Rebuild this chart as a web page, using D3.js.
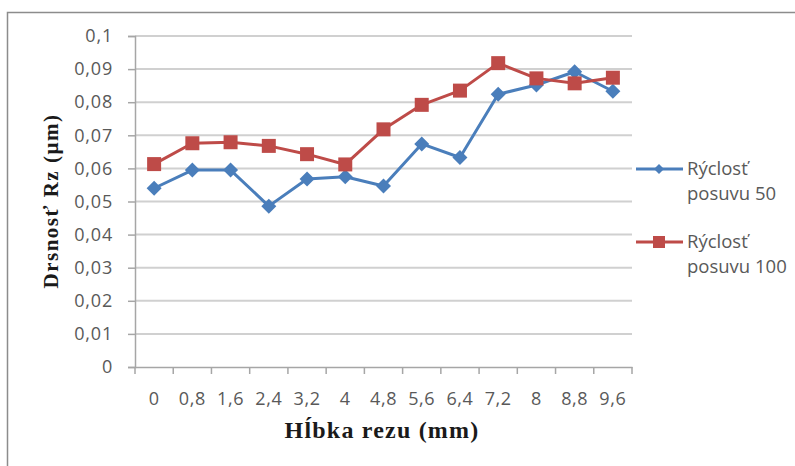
<!DOCTYPE html>
<html>
<head>
<meta charset="utf-8">
<script src="https://cdn.jsdelivr.net/npm/d3@7"></script>
<style>
  body { margin: 0; background: #fff; }
  svg { display: block; }
</style>
</head>
<body>
<svg id="chart" width="795" height="466"></svg>
<script>
// Cutting depth (mm) categories and roughness Rz (µm) for two feed rates
const depths = ["0", "0,8", "1,6", "2,4", "3,2", "4", "4,8", "5,6", "6,4", "7,2", "8", "8,8", "9,6"];
const feed50 = [0.054, 0.0595, 0.0595, 0.0486, 0.0568, 0.0575, 0.0547, 0.0674, 0.0633, 0.0824, 0.0852, 0.0892, 0.0833];
const feed100 = [0.0613, 0.0676, 0.0679, 0.0668, 0.0643, 0.0612, 0.0718, 0.0792, 0.0835, 0.0918, 0.0872, 0.0857, 0.0874];
const yTicks = [0, 0.01, 0.02, 0.03, 0.04, 0.05, 0.06, 0.07, 0.08, 0.09, 0.1];
const seriesNames = [["Rýclosť", "posuvu 50"], ["Rýclosť", "posuvu 100"]];
const colors = ["#4a7ebb", "#be4b48"];

const labelFont = "'Open Sans', Lato, sans-serif";
const titleFont = "'Liberation Serif', 'DejaVu Serif', serif";

const svg = d3.select("#chart");
const plot = { left: 135, right: 632, top: 36, bottom: 367 };

// outer chart frame (only top and left edges fall inside the view)
svg.append("rect")
  .attr("x", 7.5).attr("y", 12.5).attr("width", 800).attr("height", 470)
  .attr("fill", "#fff").attr("stroke", "#8c8c8c").attr("stroke-width", 1.5);

const x = d3.scaleBand().domain(depths).range([plot.left, plot.right]);
const y = d3.scaleLinear().domain([0, 0.1]).range([plot.bottom, plot.top]);

const fmt = v => (v === 0 ? "0" : d3.format(".2~f")(v).replace(".", ","));

// horizontal gridlines
svg.append("g")
  .selectAll("line")
  .data(yTicks.filter(d => d > 0))
  .join("line")
  .attr("x1", plot.left).attr("x2", plot.right)
  .attr("y1", d => y(d)).attr("y2", d => y(d))
  .attr("stroke", "#d0d0d0").attr("stroke-width", 2);

// y axis
const yAxis = svg.append("g")
  .attr("transform", `translate(${plot.left},0)`)
  .call(d3.axisLeft(y).tickValues(yTicks).tickFormat(fmt).tickSize(7).tickPadding(15));
yAxis.select(".domain").attr("stroke", "#a6a6a6").attr("stroke-width", 1.5);
yAxis.selectAll(".tick line").attr("stroke", "#a6a6a6").attr("stroke-width", 1.5);
yAxis.selectAll(".tick text")
  .attr("fill", "#595959").style("font-family", labelFont).style("font-size", "18px")
  .style("letter-spacing", "0.8px");

// x axis with tick marks between categories
const xAxis = svg.append("g")
  .attr("transform", `translate(0,${plot.bottom})`)
  .call(d3.axisBottom(x).tickSize(0).tickPadding(25));
xAxis.select(".domain").attr("stroke", "#a6a6a6").attr("stroke-width", 1.5);
xAxis.selectAll(".tick text")
  .attr("fill", "#595959").style("font-family", labelFont).style("font-size", "18px")
  .style("letter-spacing", "0.6px");
xAxis.append("g")
  .selectAll("line")
  .data(d3.range(depths.length + 1))
  .join("line")
  .attr("x1", i => plot.left + i * x.step()).attr("x2", i => plot.left + i * x.step())
  .attr("y1", 0).attr("y2", 7)
  .attr("stroke", "#a6a6a6").attr("stroke-width", 1.5);

const cx = (d, i) => x(depths[i]) + x.bandwidth() / 2;
const line = d3.line().x((d, i) => cx(d, i)).y(d => y(d));

// marker shapes: square-ish diamond and square
const diamond = () => "M0,-7.5L7.5,0L0,7.5L-7.5,0Z";
const square = () => "M-7,-7H7V7H-7Z";

// series: feed 50 (diamonds) below, feed 100 (squares) on top
[[feed50, diamond], [feed100, square]].forEach(([vals, sym], s) => {
  const g = svg.append("g");
  g.append("path")
    .attr("d", line(vals))
    .attr("fill", "none").attr("stroke", colors[s]).attr("stroke-width", 3)
    .attr("stroke-linejoin", "round");
  g.selectAll("path.m")
    .data(vals)
    .join("path")
    .attr("class", "m")
    .attr("d", sym)
    .attr("transform", (d, i) => `translate(${cx(d, i)},${y(d)})`)
    .attr("fill", colors[s]);
});

// legend
const legendY = [169, 242];
const legend = svg.append("g");
seriesNames.forEach((lines, s) => {
  const g = legend.append("g").attr("transform", `translate(0,${legendY[s]})`);
  g.append("line").attr("x1", 636).attr("x2", 683).attr("y1", 0).attr("y2", 0)
    .attr("stroke", colors[s]).attr("stroke-width", 3);
  g.append("path").attr("d", s === 0 ? "M0,-5L5,0L0,5L-5,0Z" : "M-6,-6H6V6H-6Z")
    .attr("transform", "translate(659,0)").attr("fill", colors[s]);
  lines.forEach((t, k) => {
    g.append("text")
      .attr("x", 687).attr("y", 6 + k * 25)
      .attr("fill", "#595959")
      .style("font-family", labelFont).style("font-size", "18.5px")
      .text(t);
  });
});

// axis titles
svg.append("text")
  .attr("x", 382).attr("y", 438)
  .attr("text-anchor", "middle")
  .attr("fill", "#1a1a1a")
  .style("font-family", titleFont)
  .style("font-size", "24px").style("font-weight", "bold")
  .style("letter-spacing", "1.2px")
  .text("Hĺbka rezu (mm)");

svg.append("text")
  .attr("transform", "translate(58,201) rotate(-90)")
  .attr("text-anchor", "middle")
  .attr("fill", "#1a1a1a")
  .style("font-family", titleFont)
  .style("font-size", "21px").style("font-weight", "bold")
  .style("letter-spacing", "1.5px")
  .text("Drsnosť Rz (µm)");
</script>
</body>
</html>
